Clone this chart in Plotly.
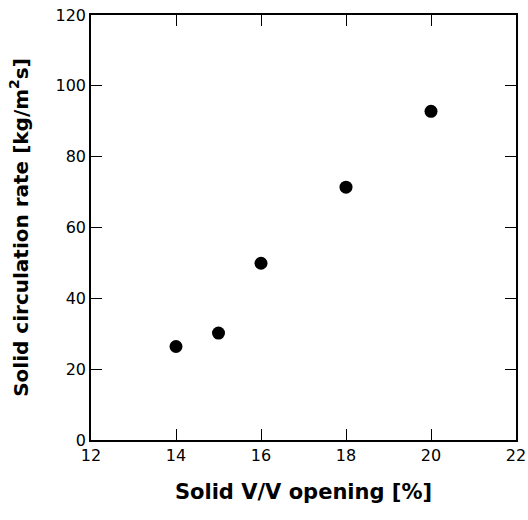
import plotly.graph_objects as go

opening = [14, 15, 16, 18, 20]
circulation_rate = [26.4, 30.2, 49.9, 71.4, 92.8]

x_ticks = [12, 14, 16, 18, 20, 22]
y_ticks = [0, 20, 40, 60, 80, 100, 120]

fig = go.Figure()
fig.add_trace(go.Scatter(
    x=opening, y=circulation_rate, mode="markers",
    marker=dict(color="black", size=13),
    showlegend=False,
))

font_family = "DejaVu Sans, Verdana, sans-serif"
axis_common = dict(
    showline=True, linecolor="black", linewidth=1.5,
    mirror="ticks", ticks="inside", ticklen=11, tickwidth=1, tickcolor="black",
    showgrid=False, zeroline=False, automargin=False,
    tickfont=dict(family=font_family, size=16, color="black"),
)

fig.update_layout(
    width=528, height=520,
    margin=dict(l=91, r=12, t=15, b=80),
    paper_bgcolor="white", plot_bgcolor="white",
    xaxis=dict(range=[12, 22], tickvals=x_ticks,
               title=dict(text="<b>Solid V/V opening [%]</b>",
                          font=dict(family=font_family, size=21, color="black"),
                          standoff=20),
               **axis_common),
    yaxis=dict(range=[0, 120], tickvals=y_ticks,
               title=dict(text="<b>Solid circulation rate [kg/m<sup>2</sup>s]</b>",
                          font=dict(family=font_family, size=20, color="black"),
                          standoff=22),
               **axis_common),
)

fig.write_html("out.html")
